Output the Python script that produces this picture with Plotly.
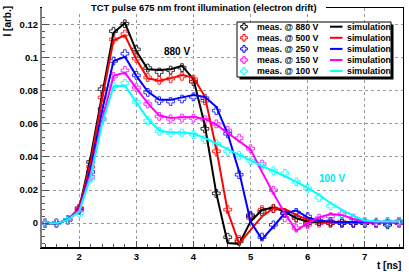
import plotly.graph_objects as go

# ---------------- data ----------------
t_ns = [1.4, 1.6, 1.8, 2.0, 2.2, 2.4, 2.6, 2.8, 3.0, 3.2, 3.4, 3.6, 3.8, 4.0, 4.2, 4.4,
        4.6, 4.8, 5.0, 5.2, 5.4, 5.6, 5.8, 6.0, 6.2, 6.4, 6.6, 6.8, 7.0, 7.2, 7.4, 7.6]

voltages = [880, 500, 250, 150, 100]
colors = ["#000000", "#ff0000", "#0000ff", "#ff00ff", "#00ffff"]

meas_880 = [0.0, 0.0, 0.002, 0.009, 0.037, 0.081, 0.116, 0.1205, 0.105, 0.0937, 0.0913, 0.0925,
            0.094, 0.0855, 0.057, 0.018, -0.0085, -0.011, 0.0048, 0.007, 0.0088, 0.006, 0.0032,
            0.0, 0.001, 0.0, 0.0, 0.0, 0.0, 0.0, -0.001, 0.0]
meas_500 = [0.0, 0.0, 0.002, 0.009, 0.034, 0.076, 0.111, 0.1143, 0.0994, 0.088, 0.0863, 0.0873,
            0.0887, 0.087, 0.074, 0.0434, 0.0082, -0.0099, 0.0032, 0.0082, 0.0088, 0.0062, 0.003,
            0.001, 0.0, 0.0, 0.001, 0.0, 0.0, 0.0, 0.0, 0.001]
meas_250 = [0.0, 0.0, 0.002, 0.008, 0.031, 0.069, 0.098, 0.1024, 0.0893, 0.079, 0.074, 0.0735,
            0.075, 0.0763, 0.0755, 0.068, 0.054, 0.0293, 0.004, -0.0084, -0.001, 0.006, 0.0065,
            0.004, 0.001, 0.001, 0.0, 0.0, 0.0, 0.0, 0.0, 0.001]
meas_150 = [0.0, 0.0, 0.002, 0.008, 0.028, 0.063, 0.0887, 0.0923, 0.0819, 0.072, 0.0645, 0.063,
            0.0635, 0.0635, 0.0625, 0.06, 0.056, 0.0514, 0.045, 0.0357, 0.0199, 0.0032, -0.003,
            -0.001, 0.003, 0.004, 0.0055, 0.003, 0.001, 0.0, 0.001, 0.0]
meas_100 = [0.0, 0.0, 0.002, 0.006, 0.027, 0.062, 0.0827, 0.0847, 0.0733, 0.062, 0.0555, 0.0545,
            0.0545, 0.0535, 0.0505, 0.048, 0.0434, 0.041, 0.0377, 0.0343, 0.0317, 0.0301, 0.025,
            0.0211, 0.0155, 0.0104, 0.005, 0.0024, 0.0006, 0.001, 0.0005, 0.001]

sim_880 = [0.0, 0.0, 0.002, 0.009, 0.040, 0.078, 0.115, 0.121, 0.104, 0.093, 0.0925, 0.093,
           0.095, 0.087, 0.059, 0.018, -0.012, -0.0125, 0.001, 0.008, 0.0095, 0.007, 0.003,
           0.001, 0.0005, 0.0005, 0.0005, 0.0005, 0.0005, 0.0005, 0.0005, 0.0005]
sim_500 = [0.0, 0.0, 0.002, 0.009, 0.037, 0.075, 0.1105, 0.1135, 0.099, 0.0875, 0.086, 0.0875,
           0.0895, 0.088, 0.0765, 0.045, 0.007, -0.0125, -0.004, 0.004, 0.009, 0.0085, 0.005,
           0.002, 0.001, 0.0005, 0.0005, 0.0005, 0.0005, 0.0005, 0.0005, 0.0005]
sim_250 = [0.0, 0.0, 0.002, 0.008, 0.033, 0.068, 0.098, 0.1005, 0.089, 0.0795, 0.0745, 0.0745,
           0.076, 0.0775, 0.0763, 0.0703, 0.054, 0.031, 0.001, -0.0098, -0.002, 0.006, 0.0076,
           0.0035, 0.0015, 0.001, 0.0005, 0.0005, 0.0005, 0.0005, 0.0005, 0.0005]
sim_150 = [0.0, 0.0, 0.002, 0.008, 0.030, 0.062, 0.089, 0.091, 0.0815, 0.0725, 0.065, 0.0635,
           0.064, 0.0642, 0.063, 0.0595, 0.0545, 0.0495, 0.0445, 0.031, 0.018, 0.006, -0.0045,
           0.0, 0.0035, 0.0055, 0.005, 0.0025, 0.001, 0.0008, 0.0008, 0.0008]
sim_100 = [0.0, 0.0, 0.002, 0.007, 0.028, 0.060, 0.0827, 0.083, 0.073, 0.063, 0.056, 0.0548,
           0.0548, 0.054, 0.0515, 0.048, 0.0445, 0.0413, 0.038, 0.0345, 0.0315, 0.0285, 0.025,
           0.0213, 0.017, 0.0122, 0.008, 0.0045, 0.0016, 0.001, 0.001, 0.001]

meas_series = [meas_880, meas_500, meas_250, meas_150, meas_100]
sim_series = [sim_880, sim_500, sim_250, sim_150, sim_100]

title_text = "TCT pulse 675 nm front illumination (electron drift)"
x_title = "t [ns]"
y_title = "I [arb.]"
meas_label = "meas. @ {} V"
sim_label = "simulation"
curve_labels = [("880 V", 3.71, 0.104, "#000000"), ("100 V", 6.42, 0.027, "#00e5ee")]

# ---------------- layout geometry ----------------
W, H = 409, 276
ML, MR, MT, MB = 41, 6, 8, 28
PW, PH = W - ML - MR, H - MT - MB
FONT = "Liberation Sans, Arial, sans-serif"


def px(x):
    return (x - ML) / PW


def py(y):
    return 1 - (y - MT) / PH


fig = go.Figure()

for vals, col in zip(meas_series, colors):
    fig.add_trace(go.Scatter(
        x=t_ns, y=vals, mode="markers", showlegend=False, cliponaxis=True,
        marker=dict(symbol="cross-open", size=6.5, color=col, line=dict(width=0.8, color=col))))

for vals, col in zip(sim_series, colors):
    fig.add_trace(go.Scatter(
        x=t_ns, y=vals, mode="lines", showlegend=False,
        line=dict(color=col, width=2)))

shapes = []
annotations = []

# heavier left / bottom axis lines (ROOT style)
shapes.append(dict(type="line", xref="paper", yref="paper", x0=0, x1=0, y0=0, y1=1,
                   line=dict(color="#808080", width=2), layer="above"))
shapes.append(dict(type="line", xref="paper", yref="paper", x0=0, x1=1, y0=0, y1=0,
                   line=dict(color="#000000", width=2), layer="above"))

# title box covering top frame
shapes.append(dict(type="rect", xref="paper", yref="paper", x0=px(42), x1=px(326),
                   y0=py(13), y1=py(0), fillcolor="white", line=dict(width=0), layer="above"))
annotations.append(dict(text="<b>" + title_text + "</b>", xref="paper", yref="paper",
                        x=px(89), y=py(7.2), xanchor="left", yanchor="middle", showarrow=False,
                        font=dict(family=FONT, size=9.4, color="black")))

# legend box with shadow
LX0, LX1, LY0, LY1 = 237, 391, 22, 77
shapes.append(dict(type="rect", xref="paper", yref="paper", x0=px(LX0 + 2.5), x1=px(LX1 + 2.5),
                   y0=py(LY1 + 2.5), y1=py(LY0 + 2.5), fillcolor="black",
                   line=dict(width=0), layer="above"))
shapes.append(dict(type="rect", xref="paper", yref="paper", x0=px(LX0), x1=px(LX1),
                   y0=py(LY1), y1=py(LY0), fillcolor="white",
                   line=dict(color="black", width=1), layer="above"))

a, b = 3.3, 1.1
cross_path = ("M {0},{1} L {2},{1} L {2},{3} L {4},{3} L {4},{5} L {2},{5} L {2},{6} "
              "L {0},{6} L {0},{5} L {7},{5} L {7},{3} L {0},{3} Z").format(
    -b, -a, b, -b, a, b, a, -a)

for i, (v, col) in enumerate(zip(voltages, colors)):
    ry = 26.7 + i * 11.1
    shapes.append(dict(type="path", xref="paper", yref="paper", xsizemode="pixel",
                       ysizemode="pixel", xanchor=px(244), yanchor=py(ry), path=cross_path,
                       line=dict(color=col, width=1), layer="above"))
    annotations.append(dict(text="<b>" + meas_label.format(v) + "</b>", xref="paper",
                            yref="paper", x=px(255), y=py(ry), xanchor="left",
                            yanchor="middle", showarrow=False,
                            font=dict(family=FONT, size=8.8, color="black")))
    shapes.append(dict(type="line", xref="paper", yref="paper", x0=px(330), x1=px(342.5),
                       y0=py(ry), y1=py(ry), line=dict(color=col, width=2), layer="above"))
    annotations.append(dict(text="<b>" + sim_label + "</b>", xref="paper",
                            yref="paper", x=px(344.5), y=py(ry), xanchor="left",
                            yanchor="middle", showarrow=False,
                            font=dict(family=FONT, size=8.8, color="black")))

for txt, xv, yv, col in curve_labels:
    annotations.append(dict(text="<b>" + txt + "</b>", x=xv, y=yv, xref="x", yref="y",
                            showarrow=False, font=dict(family=FONT, size=10, color=col)))

annotations.append(dict(text="<b>" + x_title + "</b>", xref="paper", yref="paper",
                        x=1, y=py(265), xanchor="right", yanchor="middle", showarrow=False,
                        font=dict(family=FONT, size=10, color="black")))
annotations.append(dict(text="<b>" + y_title + "</b>", xref="paper", yref="paper",
                        x=px(7), y=py(4), xanchor="center", yanchor="top", textangle=-90,
                        showarrow=False, font=dict(family=FONT, size=10, color="black")))

fig.update_layout(
    width=W, height=H, margin=dict(l=ML, r=MR, t=MT, b=MB, autoexpand=False),
    paper_bgcolor="white", plot_bgcolor="white",
    font=dict(family=FONT, size=9, color="black", weight="bold"),
    shapes=shapes, annotations=annotations, showlegend=False,
)
fig.update_xaxes(
    range=[1.33, 7.67], tick0=0, dtick=1, ticks="inside", ticklen=7, tickwidth=1,
    tickcolor="#555", showline=True, linecolor="black", linewidth=1, mirror=True,
    showgrid=True, gridcolor="#999999", griddash="dot", gridwidth=1, zeroline=False,
    automargin=False,
    tickfont=dict(family=FONT, size=9.5, color="black", weight="bold"),
    minor=dict(ticks="inside", dtick=0.2, ticklen=4, tickcolor="#555", showgrid=False),
)
fig.update_yaxes(
    range=[-0.015, 0.13], tick0=0, dtick=0.02, ticks="inside", ticklen=8, tickwidth=1,
    tickcolor="#555", showline=True, linecolor="black", linewidth=1, mirror=True,
    showgrid=True, gridcolor="#999999", griddash="dot", gridwidth=1, zeroline=False,
    automargin=False,
    tickfont=dict(family=FONT, size=9.5, color="black", weight="bold"),
    minor=dict(ticks="inside", dtick=0.004, ticklen=4, tickcolor="#555", showgrid=False),
)

fig.write_html(
    "out.html",
    config={"displayModeBar": False},
    post_script="document.body.style.margin='0';document.body.style.overflow='hidden';",
)
